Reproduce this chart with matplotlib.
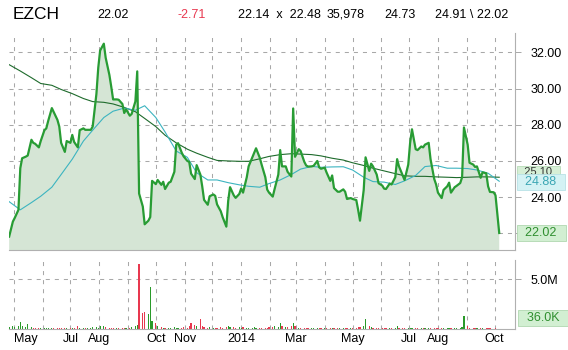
import numpy as np
import pandas as pd
import matplotlib
matplotlib.use('Agg')
import matplotlib.pyplot as plt
import matplotlib.transforms as mtransforms

plt.rcParams['font.family'] = ['Liberation Sans', 'DejaVu Sans']

# Header
symbol = 'EZCH'
header_items = ['22.02', '-2.71', '22.14  x  22.48', '35,978', '24.73', '24.91 \\ 22.02']

# Closing price, every 2nd business day from 2013-04-26
close = [
    21.82, 22.65, 22.85, 23.30, 25.60, 26.15, 26.24, 26.30, 27.17, 27.00,
    26.95, 26.75, 27.10, 27.70, 27.80, 28.20, 28.92, 28.70, 28.27, 27.90,
    27.00, 26.50, 27.10, 27.00, 27.44, 27.05, 26.75, 27.70, 27.80, 27.72,
    27.72, 27.72, 27.90, 29.70, 31.15, 32.10, 32.48, 31.70, 30.75, 30.10,
    29.40, 29.40, 29.38, 29.15, 28.65, 28.85, 28.50, 28.60, 29.29, 30.95,
    24.20, 23.48, 22.50, 22.70, 22.90, 24.90, 24.72, 24.95, 24.68, 24.85,
    24.45, 24.80, 24.85, 25.40, 26.90, 26.98, 26.45, 26.25, 26.00, 25.95,
    25.30, 25.00, 25.77, 25.25, 24.60, 23.85, 23.58, 24.05, 24.15, 24.07,
    23.60, 23.22, 22.90, 22.37, 23.80, 24.55, 24.10, 23.96, 24.18, 24.48,
    24.25, 25.10, 25.70, 26.20, 26.45, 26.70, 26.18, 25.80, 25.10, 24.42,
    24.25, 24.03, 24.45, 25.25, 26.60, 25.70, 25.70, 25.40, 25.14, 28.90,
    26.23, 26.65, 26.55, 25.95, 25.75, 25.69, 25.70, 25.73, 26.00, 25.65,
    25.57, 25.63, 25.36, 24.90, 25.20, 24.50, 24.30, 24.30, 24.43, 24.30,
    23.90, 23.95, 23.90, 23.84, 23.30, 22.70, 24.40, 26.20, 25.45, 25.85,
    25.70, 25.25, 24.77, 24.64, 24.47, 24.45, 24.75, 24.70, 25.10, 26.10,
    25.70, 25.20, 24.95, 25.80, 27.00, 27.75, 26.65, 26.60, 26.80, 26.75,
    26.90, 27.00, 26.10, 25.00, 24.70, 24.25, 23.95, 24.40, 24.60, 24.80,
    24.25, 24.55, 24.62, 24.78, 25.10, 27.85, 26.90, 25.90, 25.80, 25.67,
    25.70, 25.07, 25.37, 25.32, 24.60, 24.29, 24.27, 24.10, 22.02,
]

# Volume in millions, same dates
volume = [
    0.25, 0.30, 0.20, 0.35, 0.70, 0.30, 0.20, 0.50, 0.20, 0.15,
    0.15, 0.12, 0.12, 0.10, 0.12, 0.15, 0.10, 0.12, 0.08, 0.10,
    0.12, 0.10, 0.08, 0.12, 0.10, 0.15, 0.35, 0.10, 0.08, 0.10,
    0.12, 0.10, 0.20, 0.25, 0.15, 0.30, 0.35, 0.25, 0.15, 0.12,
    0.10, 0.12, 0.10, 0.12, 0.15, 0.10, 0.12, 0.20, 0.30, 0.40,
    6.50, 1.60, 1.75, 1.50, 4.20, 0.80, 0.60, 0.30, 0.20, 0.15,
    0.15, 0.12, 0.15, 0.20, 0.15, 0.12, 0.15, 0.20, 0.15, 0.30,
    0.60, 0.40, 0.30, 1.00, 0.35, 0.20, 0.15, 0.20, 0.12, 0.15,
    0.15, 0.20, 0.15, 0.20, 0.30, 0.25, 0.20, 0.15, 0.20, 0.15,
    0.20, 0.15, 0.12, 0.15, 0.20, 0.15, 0.12, 0.15, 0.12, 0.15,
    0.20, 0.25, 0.30, 0.20, 0.60, 0.30, 0.20, 0.25, 0.35, 0.60,
    0.30, 0.15, 0.12, 0.10, 0.12, 0.10, 0.12, 0.10, 0.12, 0.10,
    0.12, 0.10, 0.08, 0.10, 0.12, 0.10, 0.12, 0.10, 0.08, 0.10,
    0.12, 0.10, 0.12, 0.15, 0.20, 0.25, 0.30, 1.00, 0.35, 0.20,
    0.15, 0.12, 0.10, 0.12, 0.10, 0.12, 0.10, 0.12, 0.15, 0.30,
    0.15, 0.10, 0.12, 0.10, 0.08, 0.10, 0.12, 0.10, 0.08, 0.10,
    0.12, 0.10, 0.08, 0.10, 0.12, 0.10, 0.08, 0.10, 0.12, 0.10,
    0.08, 0.10, 0.12, 0.15, 0.20, 1.30, 0.30, 0.12, 0.10, 0.08,
    0.10, 0.08, 0.07, 0.08, 0.06, 0.07, 0.05, 0.06, 0.036,
]

# Moving averages, every 8th business day
ma_long = [
    31.32, 30.97, 30.60, 30.28, 30.18, 29.95, 29.72, 29.45, 29.28, 29.24,
    29.15, 28.96, 28.72, 28.35, 27.90, 27.42, 27.00, 26.65, 26.43, 26.20,
    26.03, 26.00, 25.98, 25.98, 26.12, 26.25, 26.35, 26.40, 26.38, 26.35,
    26.28, 26.15, 26.05, 25.90, 25.75, 25.60, 25.45, 25.30, 25.18, 25.15,
    25.15, 25.12, 25.10, 25.08, 25.10, 25.12, 25.12, 25.10,
]
ma_short = [
    23.75, 23.30, 23.70, 24.05, 24.55, 25.25, 26.10, 27.10, 27.70, 28.40,
    28.75, 28.92, 28.80, 29.05, 28.40, 27.60, 26.55, 26.20, 25.35, 24.95,
    24.95, 24.80, 24.68, 24.60, 24.55, 24.75, 24.95, 25.25, 25.55, 25.70,
    25.65, 25.67, 25.68, 25.50, 25.10, 24.86, 24.83, 24.70, 24.90, 25.20,
    25.69, 25.75, 25.60, 25.60, 25.58, 25.50, 25.32, 24.88,
]

price_ticks = [24, 26, 28, 30, 32]
month_labels = {'2013-05': 'May', '2013-07': 'Jul', '2013-08': 'Aug', '2013-10': 'Oct',
                '2013-11': 'Nov', '2014-01': '2014', '2014-03': 'Mar', '2014-05': 'May',
                '2014-07': 'Jul', '2014-08': 'Aug', '2014-10': 'Oct'}

dates = pd.date_range('2013-04-26', periods=len(close), freq='2B')
ma_dates = pd.date_range('2013-04-26', periods=len(ma_long), freq='8B')
months = pd.date_range('2013-05-01', '2014-10-01', freq='MS')

GREEN = '#289c34'
RED = '#e8384f'
GRID = '#a8a8a8'
dash = (0, (3.9, 4.8))

fig = plt.figure(figsize=(5.68, 3.5), dpi=100)
W, H = 568, 350
ax = fig.add_axes([9 / W, 1 - 250 / H, 506 / W, 217 / H])
axv = fig.add_axes([9 / W, 1 - 329 / H, 506 / W, 69 / H], sharex=ax)

xlim = (pd.Timestamp('2013-04-25 20:00'), pd.Timestamp('2014-10-23'))

# price panel
ax.fill_between(dates, close, 0, color='#d5e5d5', lw=0)
ax.plot(ma_dates, ma_long, color='#1e6b2c', lw=0.8)
ax.plot(ma_dates, ma_short, color='#3cb4c0', lw=0.8)
ax.plot(dates, close, color=GREEN, lw=1.6)
ax.set_xlim(xlim)
ax.set_ylim(21.08, 33.07)

for a in (ax, axv):
    for s in ('left', 'top'):
        a.spines[s].set_visible(False)
    for s in ('right', 'bottom'):
        a.spines[s].set_color('#b0b0b0')
        a.spines[s].set_linewidth(0.8)
    a.yaxis.tick_right()
    a.tick_params(axis='y', length=4, width=0.7, color=GRID, pad=7, labelsize=9)
    a.tick_params(axis='x', length=0)
    a.set_xticks(months)
    a.grid(True, color=GRID, lw=0.75, linestyle=dash)
    a.set_axisbelow(True)

ax.set_yticks(price_ticks + [22])
ax.set_yticklabels(['%.2f' % v for v in price_ticks] + [''])
ax.tick_params(axis='x', labelbottom=False)

# right-side value boxes (long MA label sits partly behind the short MA one)
tr = mtransforms.blended_transform_factory(ax.transAxes, ax.transData)
ax.annotate('  %.2f  ' % ma_long[-1], xy=(1, ma_long[-1]), xycoords=tr,
            xytext=(2.5, 3.8), textcoords='offset points', ha='left', va='center',
            fontsize=8, color='#333333', annotation_clip=False, zorder=5,
            bbox=dict(boxstyle='square,pad=0.1', fc='#d6efd6', ec='#b8dcb8', lw=0.6))
ax.annotate('  %.2f  ' % ma_short[-1], xy=(1, ma_short[-1]), xycoords=tr,
            xytext=(2.5, -0.5), textcoords='offset points', ha='left', va='center',
            fontsize=9, color='#3aa6b4', annotation_clip=False, zorder=6,
            bbox=dict(boxstyle='square,pad=0.15', fc='#d4f2f4', ec='#b8e2e6', lw=0.6))
ax.annotate('  %.2f  ' % close[-1], xy=(1, close[-1]), xycoords=tr,
            xytext=(2.5, 0), textcoords='offset points', ha='left', va='center',
            fontsize=9, color='#2f8f2f', annotation_clip=False,
            bbox=dict(boxstyle='square,pad=0.15', fc='#d2efd2', ec='#b0d8b0', lw=0.6))

# volume panel
up = np.r_[True, np.diff(close) >= 0]
vcolors = np.where(up, '#2a9a2a', RED)
axv.bar(dates, volume, width=1.3, color=vcolors, lw=0)
axv.set_ylim(0, 6.9)
axv.set_yticks([5.0])
axv.set_yticklabels(['5.0M'])
trv = mtransforms.blended_transform_factory(axv.transAxes, axv.transData)
axv.annotate('  %.1fK  ' % (volume[-1] * 1000), xy=(1, volume[-1]), xycoords=trv,
             xytext=(3.5, 7.5), textcoords='offset points', ha='left', va='center',
             fontsize=9, color='#2f8f2f', annotation_clip=False,
             bbox=dict(boxstyle='square,pad=0.15', fc='#d2efd2', ec='#b0d8b0', lw=0.6))

labels = [month_labels.get(m.strftime('%Y-%m'), '') for m in months]
axv.set_xticklabels(labels, fontsize=9)
axv.tick_params(axis='x', pad=3)
first = axv.get_xticklabels()[0]
first.set_ha('left')

# header
fig.text(12.5 / W, 1 - 14.5 / H, symbol, fontsize=12.5, va='center', ha='left')
xs = [97, 177.5, 238, 327, 384, 435]
for x, s in zip(xs, header_items):
    fig.text(x / W, 1 - 14.5 / H, s, fontsize=9, va='center', ha='left',
             color=RED if s.startswith('-') else 'black')

fig.savefig('out.png', dpi=100)
